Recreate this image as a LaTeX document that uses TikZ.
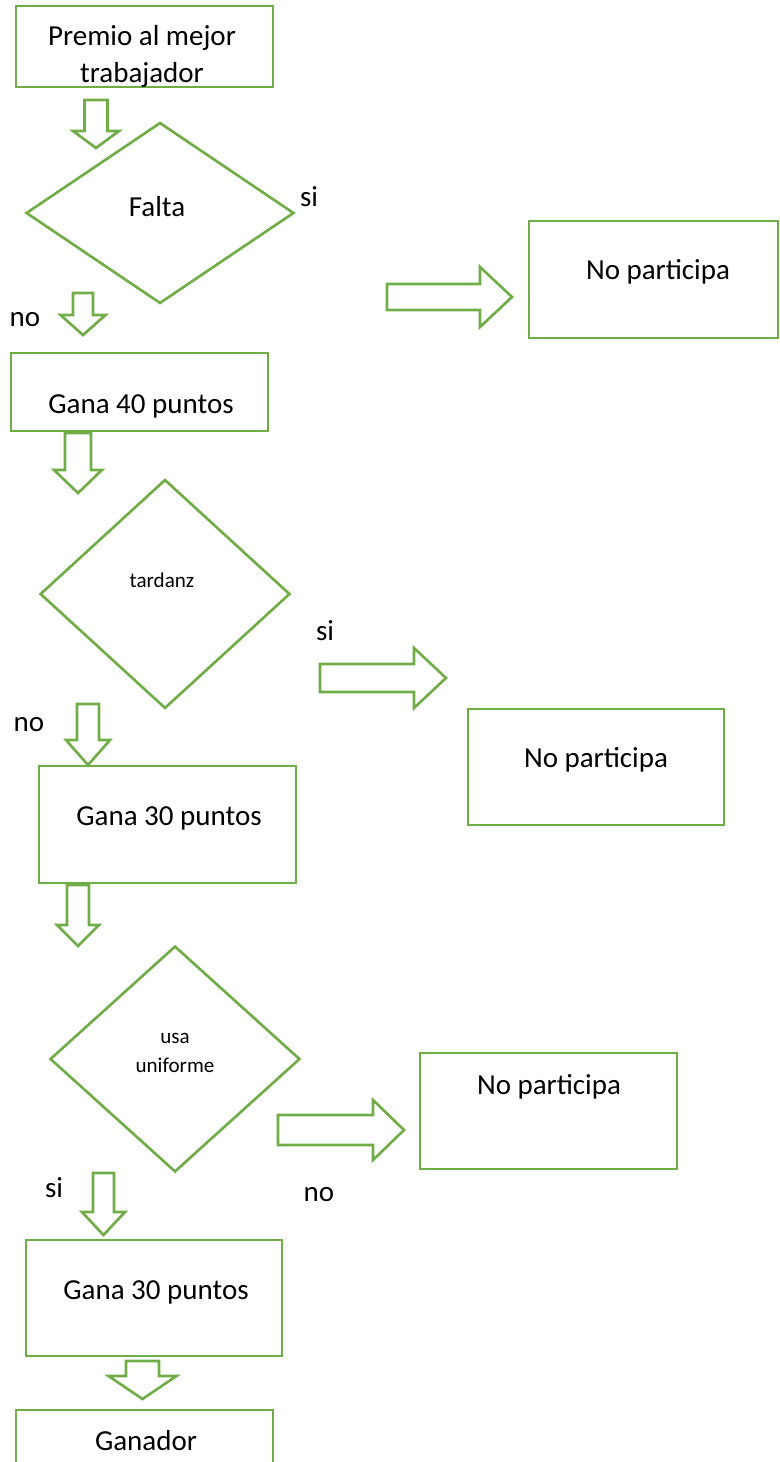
\documentclass[tikz,border=0pt]{standalone}
\usepackage{fontspec}
\setmainfont{Carlito}
\usetikzlibrary{shapes.geometric,fit}
\definecolor{verde}{HTML}{70AD47}
% flecha de bloque hacia abajo: x centro, arriba, medio ancho tallo, fin tallo, medio ancho punta, punta
\newcommand{\flechaabajo}[6]{%
  \draw[flecha] ({#1-#3},#2) -- ({#1+#3},#2) -- ({#1+#3},#4) -- ({#1+#5},#4) -- (#1,#6)
    -- ({#1-#5},#4) -- ({#1-#3},#4) -- cycle;}
% flecha de bloque hacia la derecha: izquierda, y centro, medio alto tallo, fin tallo, medio alto punta, punta
\newcommand{\flechaderecha}[6]{%
  \draw[flecha] (#1,{#2-#3}) -- (#4,{#2-#3}) -- (#4,{#2-#5}) -- (#6,#2)
    -- (#4,{#2+#5}) -- (#4,{#2+#3}) -- (#1,{#2+#3}) -- cycle;}
\begin{document}
\begin{tikzpicture}[x=0.02cm, y=-0.02cm,
    caja/.style={draw=verde, line width=1.5pt, inner sep=0pt},
    rombo/.style={diamond, draw=verde, line width=1.5pt, inner sep=0pt},
    flecha/.style={draw=verde, line width=1.5pt, line join=miter},
    texto/.style={anchor=base, inner sep=0pt, font=\fontsize{16.5}{21.5}\selectfont},
    chico/.style={texto, font=\fontsize{12}{14}\selectfont},
    medio/.style={texto, font=\fontsize{12}{16.4}\selectfont}]
        \useasboundingbox (0,0) rectangle (779,1462);
        \clip (0,0) rectangle (779,1462);

        \node[caja, fit={(16,6) (273,87)}] (premio) {};
        \node[texto, align=center] (tpremio) at (142,83) {Premio al mejor\\trabajador};
        \flechaabajo{96}{100}{11.5}{131}{23}{148}

        \node[rombo, minimum width=5.36cm, minimum height=3.62cm] (falta) at (160,213) {};
        \node[texto] (tfalta) at (157,217) {Falta};
        \node[texto] (si1) at (309,207) {si};
        \flechaderecha{387}{297}{13}{480}{30}{512}
        \node[caja, fit={(529,221) (778,338)}] (nopart1) {};
        \node[texto] (tnopart1) at (658,280) {No participa};
        \node[texto] (no1) at (25,327) {no};
        \flechaabajo{83}{293}{10}{315}{22.5}{335}

        \node[caja, fit={(11,353) (268,431)}] (gana40) {};
        \node[texto] (tgana40) at (141,414) {Gana 40 puntos};
        \flechaabajo{78}{433}{13}{470}{24}{493}

        \node[rombo, minimum width=5cm, minimum height=4.58cm] (tardanza) at (165,594) {};
        \node[chico] (ttardanza) at (162,587) {tardanz};
        \node[texto] (si2) at (325,640) {si};
        \flechaderecha{320}{678}{14}{414}{30}{446}
        \node[caja, fit={(468,709) (724,825)}] (nopart2) {};
        \node[texto] (tnopart2) at (596,767) {No participa};
        \node[texto] (no2) at (29,731) {no};
        \flechaabajo{88}{704}{11}{740}{22}{765}

        \node[caja, fit={(39,766) (296,883)}] (gana30a) {};
        \node[texto] (tgana30a) at (169,825) {Gana 30 puntos};
        \flechaabajo{78}{885}{11}{925}{21}{946}

        \node[rombo, minimum width=5cm, minimum height=4.52cm] (uniforme) at (175,1059) {};
        \node[medio, align=center] (tuniforme) at (175,1072) {usa\\uniforme};
        \flechaderecha{278}{1130}{15}{373}{30}{404}
        \node[caja, fit={(420,1053) (677,1169)}] (nopart3) {};
        \node[texto] (tnopart3) at (549,1094) {No participa};
        \node[texto] (no3) at (319,1201) {no};
        \node[texto] (si3) at (54,1197) {si};
        \flechaabajo{103.5}{1173}{10.5}{1212}{21.5}{1235}

        \node[caja, fit={(26,1240) (282,1356)}] (gana30b) {};
        \node[texto] (tgana30b) at (156,1299) {Gana 30 puntos};
        \flechaabajo{142.5}{1361}{16.5}{1376}{34}{1399}

        \node[caja, fit={(16,1410) (273,1500)}] (ganador) {};
        \node[texto] (tganador) at (146,1450) {Ganador};
    \end{tikzpicture}
\end{document}
